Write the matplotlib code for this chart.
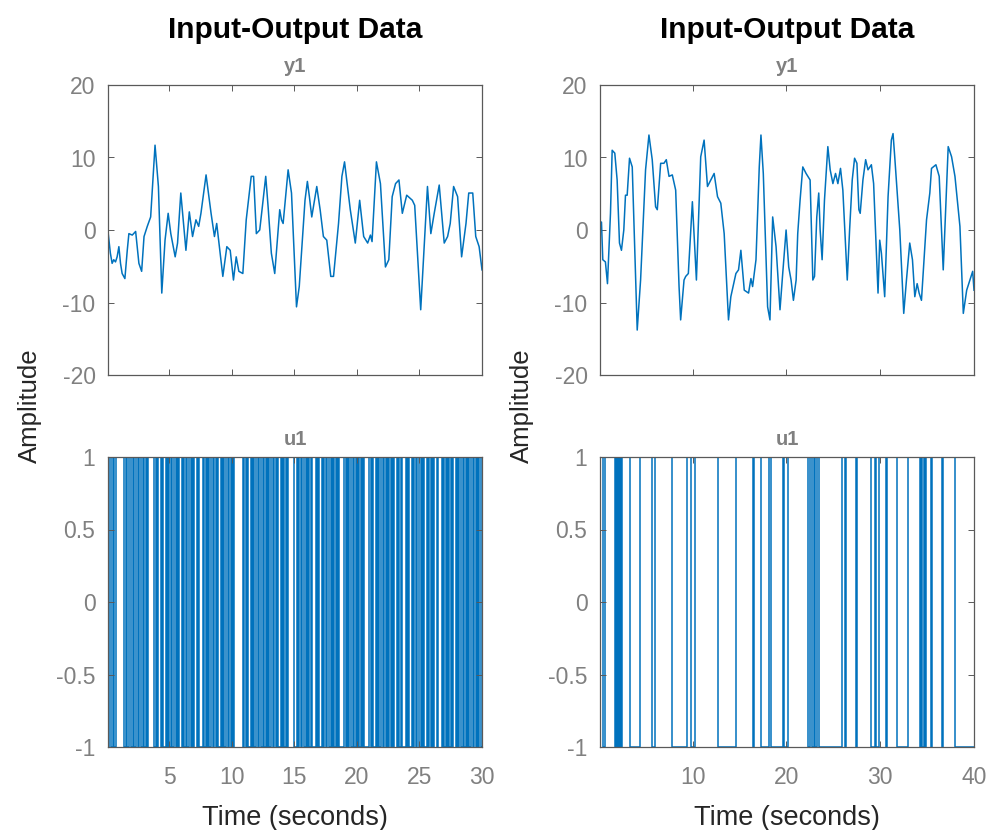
import numpy as np
import matplotlib
matplotlib.use('Agg')
from matplotlib import pyplot as plt

plt.rcParams['font.family'] = ['Liberation Sans', 'DejaVu Sans']
plt.rcParams['axes.unicode_minus'] = False

y1_left = [
    (0.0, -0.2), (0.03, 0.9), (0.29, -3.2), (0.43, -4.6), (0.56, -4.1), (0.7, -4.4), (0.83, -3.7),
    (0.97, -2.3), (1.1, -4.6), (1.23, -6.0), (1.45, -6.7), (1.64, -2.8), (1.77, -0.5), (2.04, -0.7),
    (2.31, -0.2), (2.57, -4.6), (2.79, -5.7), (2.98, -0.9), (3.24, 0.5), (3.51, 1.8), (3.86, 11.7),
    (4.13, 6.0), (4.4, -8.7), (4.66, -1.4), (4.91, 2.3), (5.12, -0.5), (5.47, -3.7), (5.66, -1.8),
    (5.92, 5.1), (6.33, -2.8), (6.6, 2.5), (6.86, -0.9), (7.13, 1.4), (7.35, 0.5), (7.53, 2.3),
    (7.94, 7.6), (8.34, 2.3), (8.61, -0.9), (8.79, 0.9), (9.28, -6.4), (9.6, -2.3), (9.87, -2.8),
    (10.13, -6.9), (10.35, -3.7), (10.56, -5.7), (10.88, -6.0), (11.15, 1.4), (11.55, 7.4),
    (11.74, 7.4), (11.96, -0.5), (12.23, 0.0), (12.44, 3.2), (12.71, 7.4), (12.9, 3.2),
    (13.16, -3.2), (13.43, -6.0), (13.83, 2.8), (13.97, 1.4), (14.1, 0.9), (14.5, 8.3),
    (14.77, 5.1), (15.17, -10.6), (15.39, -7.8), (15.85, 4.1), (16.04, 6.7), (16.2, 4.6),
    (16.39, 1.8), (16.79, 6.0), (17.06, 2.8), (17.32, -0.9), (17.59, -1.4), (17.91, -6.4),
    (18.13, -6.4), (18.53, 0.9), (18.8, 7.4), (19.01, 9.4), (19.47, 2.8), (19.87, -1.8),
    (20.22, 4.1), (20.54, -0.9), (20.86, -1.8), (21.08, -0.7), (21.21, -1.6), (21.56, 9.4),
    (21.88, 6.4), (22.28, -5.1), (22.55, -4.1), (22.82, 4.6), (23.09, 6.4), (23.36, 6.9),
    (23.63, 2.3), (23.98, 4.8), (24.43, 4.1), (24.62, 3.4), (25.1, -11.0), (25.64, 6.0),
    (25.91, -0.5), (26.18, 2.3), (26.58, 6.2), (26.98, -1.8), (27.25, -0.9), (27.46, 0.9),
    (27.73, 6.0), (28.05, 4.6), (28.37, -3.7), (28.72, 0.9), (28.94, 5.1), (29.26, 5.1),
    (29.5, -0.9), (29.77, -2.3), (30.0, -5.5),
]

y1_right = [
    (0.0, 0.0), (0.29, 1.1), (0.43, -4.1), (0.71, -4.4), (0.93, -7.4), (1.25, 2.3), (1.43, 11.0),
    (1.71, 10.6), (1.96, 6.9), (2.21, -1.8), (2.42, -2.8), (2.67, 0.0), (2.85, 4.8), (3.03, 4.8),
    (3.28, 9.9), (3.57, 8.7), (4.1, -13.8), (4.46, -6.9), (4.99, 8.3), (5.35, 13.1), (5.7, 9.7),
    (6.06, 3.2), (6.24, 2.8), (6.6, 9.2), (6.95, 9.2), (7.2, 9.7), (7.49, 7.4), (7.84, 7.6),
    (8.2, 5.5), (8.56, -7.8), (8.73, -12.4), (9.09, -6.9), (9.27, -6.4), (9.55, -6.0), (9.98, 3.9),
    (10.41, -6.9), (10.87, 10.1), (11.23, 12.4), (11.59, 6.0), (11.94, 6.9), (12.3, 7.8),
    (12.66, 4.6), (13.01, 3.7), (13.37, -0.5), (13.83, -12.4), (14.08, -9.2), (14.62, -6.0),
    (14.9, -5.5), (15.15, -2.8), (15.51, -8.3), (15.97, -8.7), (16.22, -6.7), (16.4, -7.8),
    (16.76, -4.1), (17.11, 8.7), (17.29, 13.1), (17.54, 7.8), (18.0, -10.6), (18.25, -12.4),
    (18.54, 1.8), (18.9, -2.3), (19.32, -11.0), (19.61, -6.0), (19.97, 0.0), (20.25, -5.1),
    (20.5, -6.9), (20.75, -9.7), (21.04, -6.9), (21.21, -0.5), (21.46, 4.1), (21.75, 8.7),
    (22.1, 7.8), (22.53, 6.9), (22.82, -6.9), (23.0, -6.4), (23.24, 1.8), (23.45, 5.1),
    (23.6, 0.0), (23.81, -4.1), (24.06, 4.1), (24.42, 11.5), (24.67, 8.3), (24.96, 6.4),
    (25.24, 7.8), (25.49, 6.4), (25.77, 8.5), (26.02, 5.5), (26.49, -6.9), (26.74, 0.0),
    (27.02, 6.9), (27.27, 9.9), (27.52, 9.2), (27.73, 2.8), (27.87, 2.3), (28.16, 6.9),
    (28.45, 9.7), (28.7, 8.3), (29.06, 9.0), (29.3, 6.4), (29.77, -8.7), (29.95, -1.4),
    (30.13, -3.2), (30.48, -9.2), (30.84, 4.6), (31.19, 12.4), (31.37, 13.3), (31.55, 10.1),
    (32.09, 0.0), (32.51, -11.5), (32.8, -6.9), (33.15, -1.8), (33.44, -4.1), (33.69, -9.2),
    (33.94, -7.4), (34.15, -8.7), (34.4, -9.7), (34.94, 1.4), (35.29, 5.1), (35.47, 8.5),
    (35.94, 9.0), (36.29, 7.4), (36.72, -5.5), (37.25, 11.5), (37.61, 10.1), (37.97, 7.4),
    (38.5, 0.5), (38.86, -11.5), (39.22, -8.3), (39.57, -6.9), (39.86, -5.7), (40.0, -8.3),
]

# left experiment: u1 levels, one sign per 0.1 s sample over 0..30 s
u1_left_code = (
    "+-+--+-+" "++++++" "-+--+" "--" "+-++-+--+-+-" "+++++" "-+-++-+--+-+"
    "-+--+-+-++" "-+-+--+-+-" "++-+---+-+" "-+-++-+-+-" "-+-+-++-+-"
    "+-" "+++++++" "-+-+--+-+-" "++-+--+-+-" "+-++-+-+--" "+-+-+-" "+++++"
    "--" "+-+-++-+-+-+" "---" "+-+--+-+-++-+-+-+-+" "----" "+-+-+--+-+"
    "-+-+-+" "----" "+-+--+-+-++-+-+-+-+-" "++" "-+-+" "---" "+-+" "--" "+-+-++"
    "-+-+--+-+-+-++-" "+++" "-+-+-+-+-" "++" "-+-+--+-+-+-++-+-+-+-"
)
u1_left = [1 if c == '+' else -1 for c in u1_left_code]

# right experiment: u1 switching instants (s), starting level -1
u1_right_start = -1
u1_right_switch = [0.15, 0.4, 0.65, 1.75, 1.85, 1.95, 2.05, 2.15, 2.25, 2.4, 2.5, 3.3, 4.45, 5.7, 5.95, 7.85,
                   9.45, 9.8, 10.3, 12.7, 14.6, 16.4, 16.5, 17.3, 18.2, 18.35, 19.6, 19.8, 20.2, 22.3, 22.5,
                   22.7, 22.9, 23.1, 23.3, 23.5, 25.9, 26.2, 26.4, 27.45, 27.55, 29.05, 29.4, 29.6, 29.9,
                   30.65, 30.75, 31.75, 33.0, 34.2, 34.35, 34.5, 34.65, 34.8, 34.9, 35.45, 35.55, 36.55,
                   36.65, 37.95]

blue = '#0072BD'
tick_gray = '#808080'
frame_gray = '#595959'

fig = plt.figure(figsize=(9.92, 8.3), dpi=100)
colx = [108 / 992, 600 / 992]
w = 374 / 992
h = 290 / 830
top_b = 1 - 375 / 830
bot_b = 1 - 747 / 830


def style(ax):
    for s in ax.spines.values():
        s.set_color(frame_gray)
        s.set_linewidth(0.9)
    ax.tick_params(direction='in', top=True, right=True, length=4, width=0.7,
                   color=frame_gray, labelcolor=tick_gray, labelsize=16.5)
    ax.tick_params(axis='y', pad=9)
    ax.tick_params(axis='x', pad=14)


edges_r = [0.0] + u1_right_switch + [40.0]
u1_right = []
lev = u1_right_start
for k in range(len(edges_r) - 1):
    u1_right.append(lev)
    lev = -lev
edges_l = np.linspace(0, 30, len(u1_left) + 1)

cols = [
    (y1_left, u1_left, edges_l, 30.0, [5, 10, 15, 20, 25, 30]),
    (y1_right, u1_right, edges_r, 40.0, [10, 20, 30, 40]),
]
for i, (yy, uu, ed, tmax, xt) in enumerate(cols):
    ax1 = fig.add_axes([colx[i], top_b, w, h])
    ax2 = fig.add_axes([colx[i], bot_b, w, h])
    tt, vv = zip(*yy)
    ax1.plot(tt, vv, color=blue, linewidth=1.1)
    ax2.stairs(uu, ed, color=blue, linewidth=1.1, baseline=None)
    for ax in (ax1, ax2):
        ax.set_xlim(0.1 * tmax / 30, tmax)
        ax.set_xticks(xt)
        style(ax)
    ax1.set_ylim(-20, 20)
    ax1.set_yticks([-20, -10, 0, 10, 20])
    ax1.tick_params(labelbottom=False)
    ax2.set_ylim(-1, 1)
    ax2.set_yticks([-1, -0.5, 0, 0.5, 1])
    ax2.set_yticklabels(['-1', '-0.5', '0', '0.5', '1'])
    ax1.set_title('y1', fontsize=14.5, fontweight='bold', color=tick_gray, pad=9)
    ax2.set_title('u1', fontsize=14.5, fontweight='bold', color=tick_gray, pad=9)
    ax2.set_xlabel('Time (seconds)', fontsize=19.5, color='#262626', labelpad=11)
    xc = colx[i] + w / 2
    fig.text(xc, 1 - 30 / 830, 'Input-Output Data', ha='center', va='center',
             fontsize=21.5, fontweight='bold', color='black')
    fig.text(colx[i] - 78 / 992, 1 - 406 / 830, 'Amplitude', rotation=90,
             ha='center', va='center', fontsize=18.5, color='#262626')

fig.savefig('out.png', dpi=100)
